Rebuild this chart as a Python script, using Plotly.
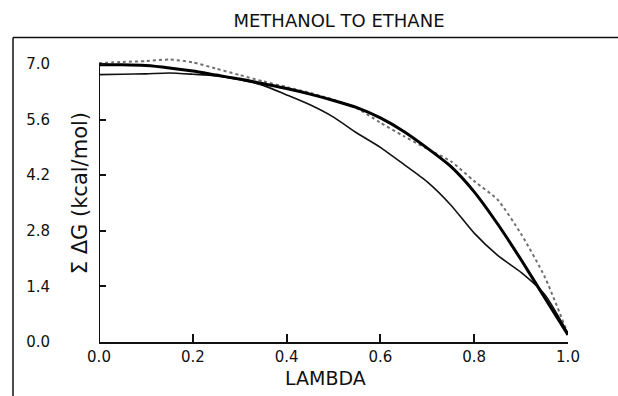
import plotly.graph_objects as go

lam = [0.00, 0.05, 0.10, 0.15, 0.20, 0.25, 0.30, 0.35, 0.40, 0.45, 0.50,
       0.55, 0.60, 0.65, 0.70, 0.75, 0.80, 0.85, 0.90, 0.95, 1.00]

thick_vals = [6.98, 6.98, 6.96, 6.90, 6.82, 6.72, 6.62, 6.50, 6.38, 6.24, 6.08,
              5.90, 5.64, 5.30, 4.88, 4.42, 3.78, 2.97, 2.07, 1.12, 0.18]

dotted_vals = [7.02, 7.05, 7.07, 7.11, 7.04, 6.88, 6.72, 6.56, 6.42, 6.27, 6.10,
               5.88, 5.52, 5.18, 4.86, 4.55, 4.05, 3.58, 2.72, 1.65, 0.20]

thin_vals = [6.73, 6.74, 6.75, 6.77, 6.74, 6.70, 6.60, 6.46, 6.22, 5.97, 5.66,
             5.26, 4.90, 4.47, 4.03, 3.45, 2.74, 2.18, 1.75, 1.20, 0.22]

x_ticks = [0.0, 0.2, 0.4, 0.6, 0.8, 1.0]
x_ticktext = ["0.0", "0.2", "0.4", "0.6", "0.8", "1.0"]
y_ticks = [0.0, 1.4, 2.8, 4.2, 5.6, 7.0]
y_ticktext = ["0.0", "1.4", "2.8", "4.2", "5.6", "7.0"]

W, H = 618, 396
L, R, T, B = 99, 50, 51.5, 54
pw, ph = W - L - R, H - T - B

fig = go.Figure()
fig.add_trace(go.Scatter(x=lam, y=dotted_vals, mode="lines",
                         line=dict(color="#707070", width=2, dash="dot",
                                   shape="spline", smoothing=0.6)))
fig.add_trace(go.Scatter(x=lam, y=thin_vals, mode="lines",
                         line=dict(color="#111111", width=1.6,
                                   shape="spline", smoothing=0.6)))
fig.add_trace(go.Scatter(x=lam, y=thick_vals, mode="lines",
                         line=dict(color="#000000", width=3,
                                   shape="spline", smoothing=0.6)))

font_family = "DejaVu Sans, Liberation Sans, sans-serif"

fig.update_layout(
    width=W, height=H,
    margin=dict(l=L, r=R, t=T, b=B, pad=0),
    paper_bgcolor="white", plot_bgcolor="white",
    showlegend=False,
    font=dict(family=font_family, color="#111111", size=15),
    title=dict(text="METHANOL TO ETHANE", x=339 / W, y=1 - 21 / H,
               xanchor="center", yanchor="middle",
               font=dict(size=18, family=font_family, color="#111111")),
    xaxis=dict(range=[0, 1], tickvals=x_ticks, ticktext=x_ticktext,
               ticks="inside", ticklen=8, tickwidth=1.5, tickcolor="#111",
               showline=True, linecolor="#111", linewidth=2,
               showgrid=False, zeroline=False),
    yaxis=dict(range=[0, 7.3], tickvals=y_ticks, ticktext=y_ticktext,
               ticks="inside", ticklen=7, tickwidth=1.5, tickcolor="#111",
               showline=False, showgrid=False, zeroline=False,
               ticklabelstandoff=48),
)

# y-axis line up to 7.0
fig.add_shape(type="line", xref="x", yref="y", x0=0, x1=0, y0=0, y1=7.0,
              line=dict(color="#111", width=2))


def px_to_paper_x(px):
    return (px - L) / pw


def px_to_paper_y(py):
    return (H - B - py) / ph


# outer frame lines (top and left)
fig.add_shape(type="line", xref="paper", yref="paper",
              x0=px_to_paper_x(13), x1=px_to_paper_x(618),
              y0=px_to_paper_y(37), y1=px_to_paper_y(37),
              line=dict(color="#111", width=1.5))
fig.add_shape(type="line", xref="paper", yref="paper",
              x0=px_to_paper_x(13), x1=px_to_paper_x(13),
              y0=px_to_paper_y(37), y1=px_to_paper_y(396),
              line=dict(color="#111", width=1.5))

fig.add_annotation(text="Σ ΔG (kcal/mol)", xref="paper", yref="paper",
                   x=px_to_paper_x(80), y=px_to_paper_y(193),
                   xanchor="center", yanchor="middle", textangle=-90,
                   showarrow=False,
                   font=dict(size=21, family=font_family, color="#111"))

fig.add_annotation(text="LAMBDA", xref="paper", yref="paper",
                   x=px_to_paper_x(325), y=px_to_paper_y(378),
                   xanchor="center", yanchor="middle",
                   showarrow=False,
                   font=dict(size=19, family=font_family, color="#111"))

fig.write_html("out.html")
